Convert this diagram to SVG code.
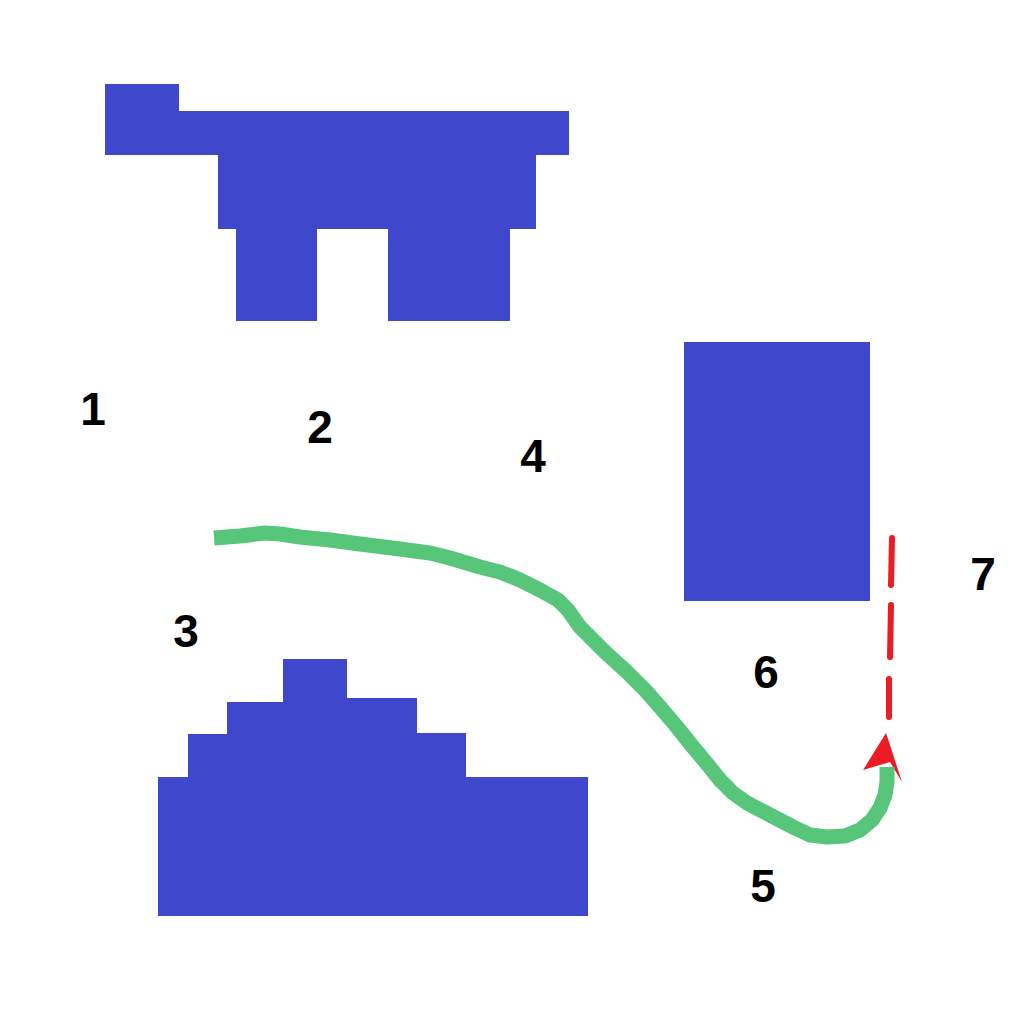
<svg xmlns="http://www.w3.org/2000/svg" width="1024" height="1024" viewBox="0 0 1024 1024">
  <style>
    .blk { fill: #3f48cc; }
    .num { font-family: "Liberation Sans", Arial, sans-serif; font-weight: bold; font-size: 46px; fill: #000; text-anchor: middle; }
    .green { fill: none; stroke: #57c57a; stroke-width: 15; stroke-linejoin: round; stroke-linecap: butt; }
    .dash { stroke: #ed1c24; stroke-width: 6; stroke-linecap: round; }
  </style>
  <rect width="1024" height="1024" fill="#ffffff"/>
  <g id="top-shape">
    <polygon class="blk" points="105,84 179,84 179,111 569,111 569,155 536,155 536,229 510,229 510,321 388,321 388,229 317,229 317,321 236,321 236,229 218,229 218,155 105,155"/>
  </g>
  <g id="bottom-shape">
    <polygon class="blk" points="158,916 158,777 188,777 188,734 227,734 227,702 283,702 283,659 347,659 347,698 417,698 417,733 466,733 466,777 588,777 588,916"/>
  </g>
  <g id="right-rect">
    <rect class="blk" x="684" y="342" width="186" height="259"/>
  </g>
  <g id="connectors">
    <line class="dash" x1="892" y1="538" x2="891" y2="585"/>
    <line class="dash" x1="891" y1="605" x2="890" y2="657"/>
    <line class="dash" x1="889" y1="679" x2="889" y2="717"/>
    <polygon fill="#ed1c24" points="886,733 902,782 890,762 863,770"/>
    <path class="green" d="M214,538 L240,536 L265,533 L280,534 L300,537 L330,540 L360,544 L400,549 L430,553 L450,558 L480,567 L500,572 L520,580 L540,590 L558,600 L568,610 L580,627 L605,652 L627,672 L645,690 L660,707 L677,727 L693,747 L708,765 L720,780 L733,793 L747,803 L770,815 L793,827 L810,835 L827,837 L845,836 L860,830 L872,820 L880,808 L885,795 L887,782 L887,767"/>
  </g>
  <g id="labels">
    <text class="num" x="93" y="425">1</text>
    <text class="num" x="320" y="443">2</text>
    <text class="num" x="186" y="647">3</text>
    <text class="num" x="533" y="472">4</text>
    <text class="num" x="763" y="902">5</text>
    <text class="num" x="766" y="688">6</text>
    <text class="num" x="983" y="590">7</text>
  </g>
</svg>
